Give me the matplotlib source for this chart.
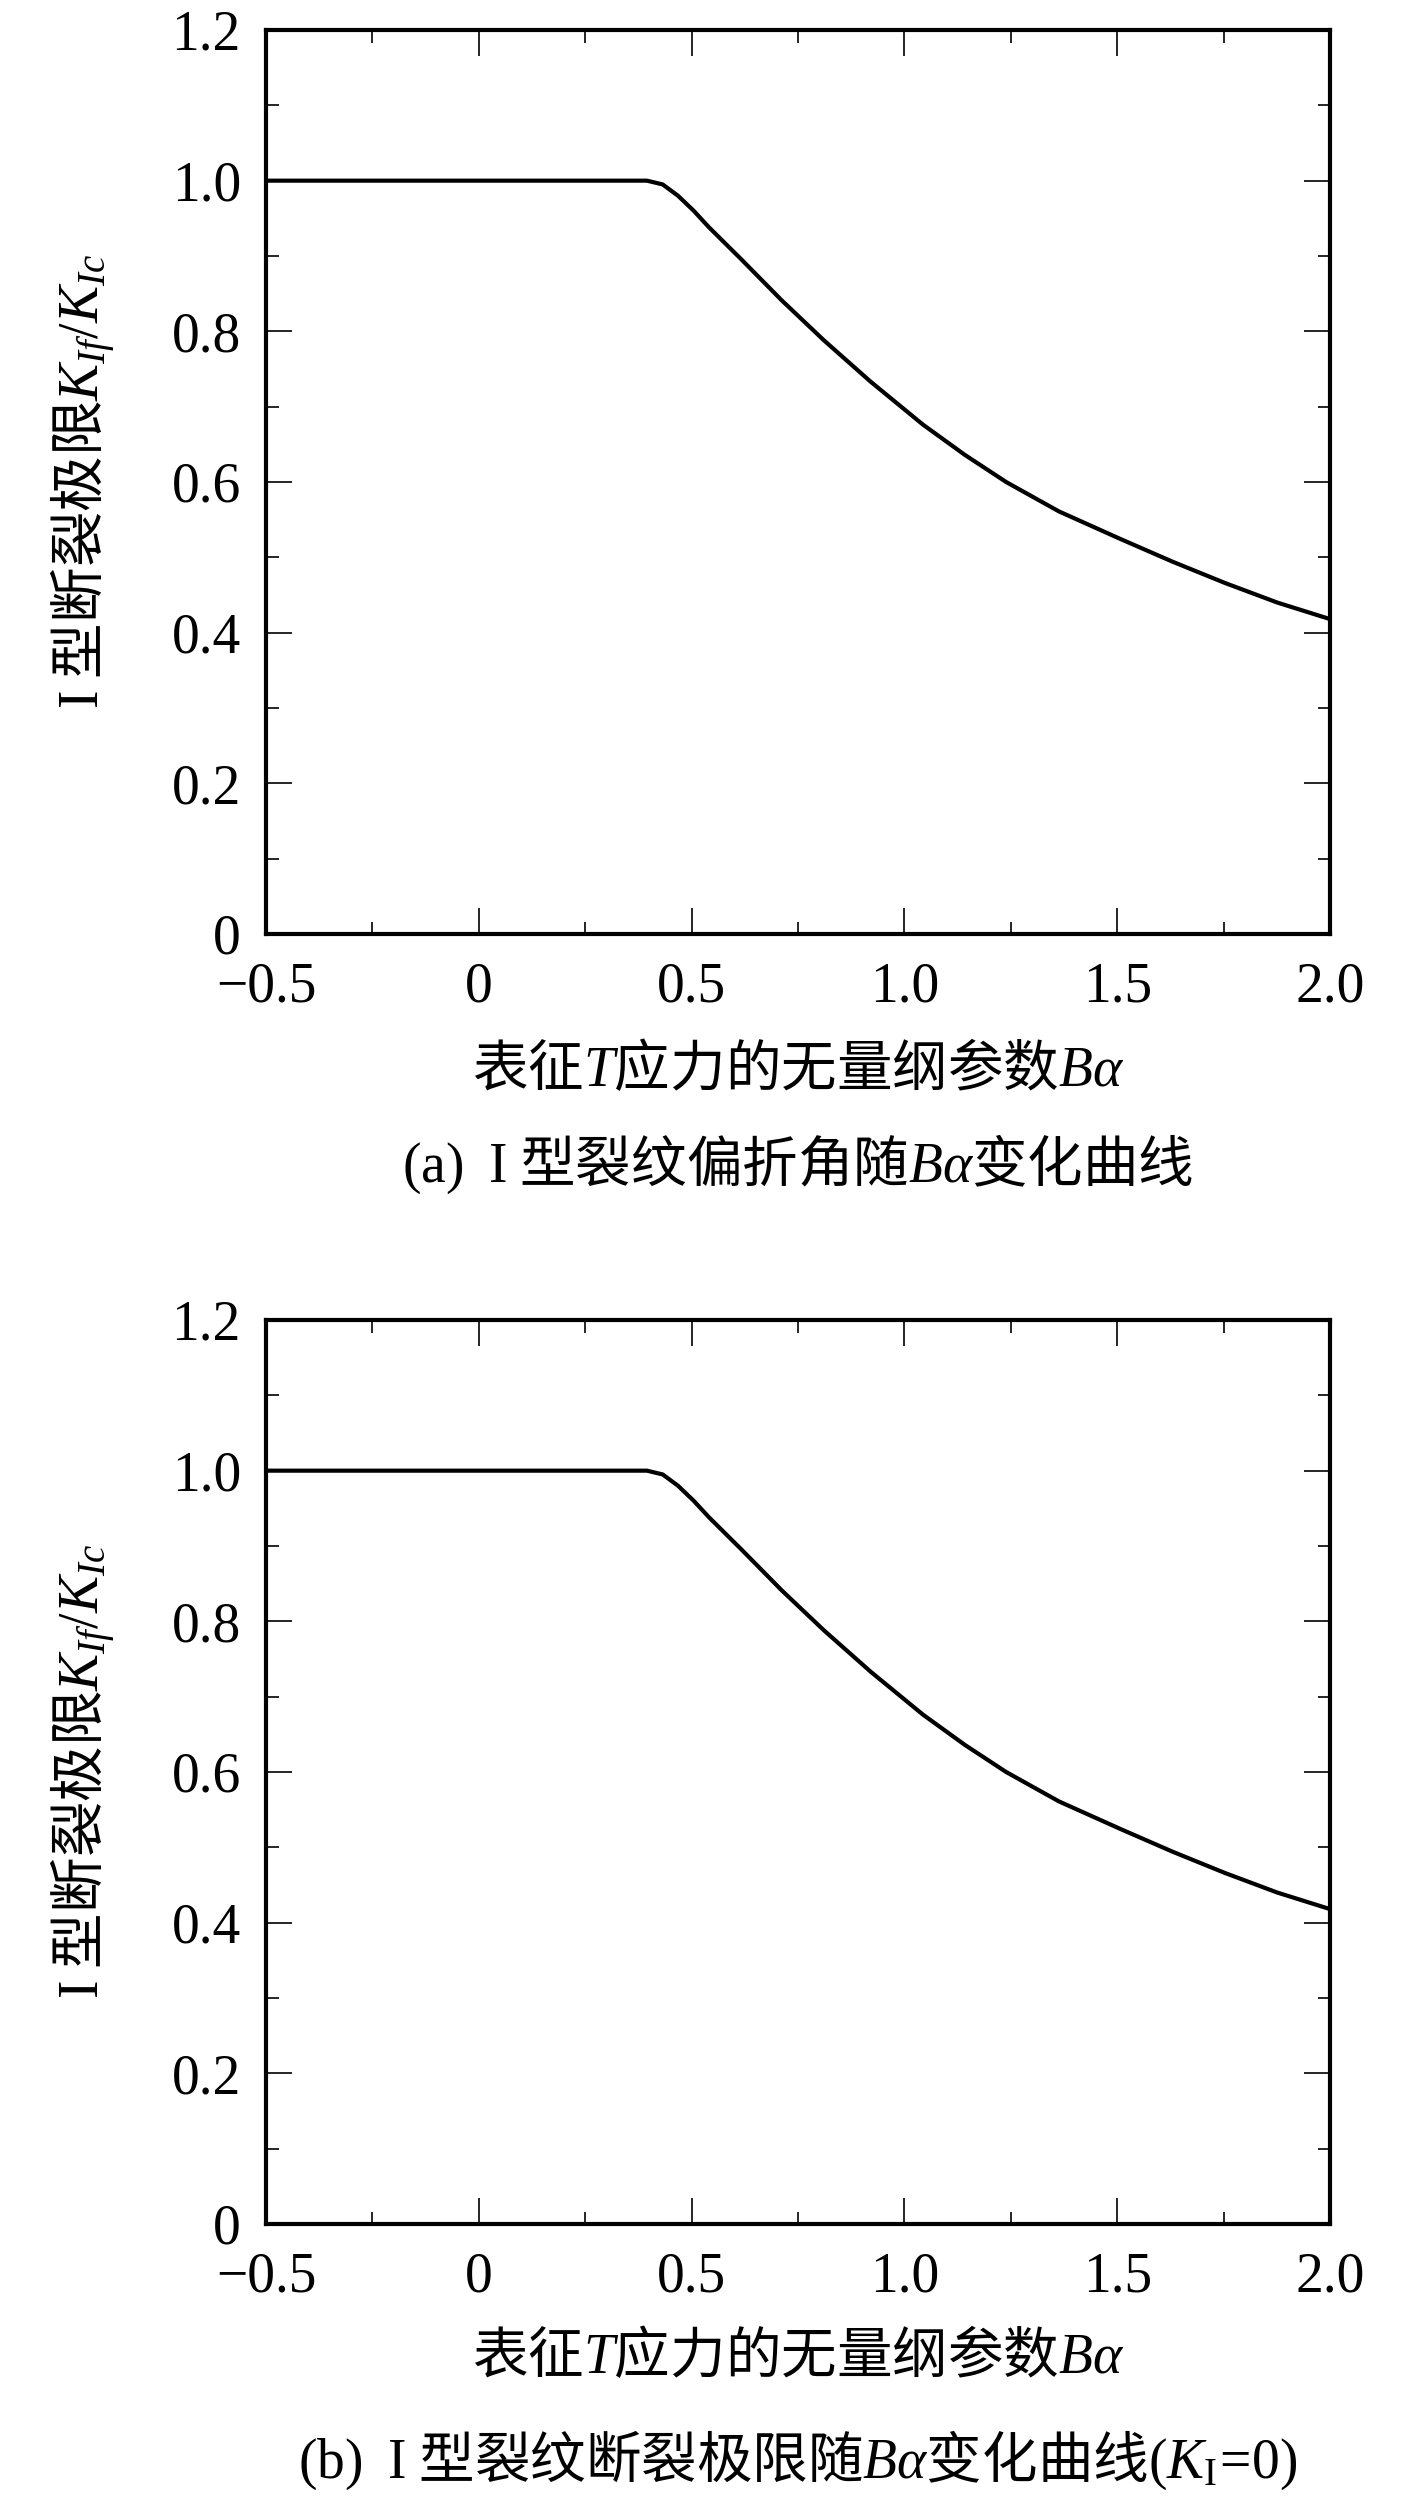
import numpy as np
import matplotlib
matplotlib.use('Agg')
from matplotlib import pyplot as plt
from matplotlib.ticker import FixedLocator, FixedFormatter

plt.rcParams['font.family'] = ['Liberation Serif', 'Noto Sans CJK SC']
plt.rcParams['mathtext.fontset'] = 'custom'
plt.rcParams['mathtext.rm'] = 'Liberation Serif'
plt.rcParams['mathtext.it'] = 'Liberation Serif:italic'
plt.rcParams['mathtext.bf'] = 'Liberation Serif:bold'

# curve (same curve in both panels)
ba = [-0.5, 0.0, 0.2, 0.395, 0.432, 0.468, 0.505, 0.541, 0.616, 0.712, 0.811,
      0.921, 1.044, 1.142, 1.239, 1.363, 1.509, 1.631, 1.753, 1.876, 2.0]
kif = [1.0, 1.0, 1.0, 1.0, 0.995, 0.980, 0.960, 0.938, 0.896, 0.841, 0.788,
       0.733, 0.676, 0.636, 0.600, 0.561, 0.524, 0.494, 0.466, 0.440, 0.418]

xticks = [-0.5, 0.0, 0.5, 1.0, 1.5, 2.0]
xticklabels = ['\u22120.5', '0', '0.5', '1.0', '1.5', '2.0']
xminor = [-0.25, 0.25, 0.75, 1.25, 1.75]
yticks = [0.0, 0.2, 0.4, 0.6, 0.8, 1.0, 1.2]
yticklabels = ['0', '0.2', '0.4', '0.6', '0.8', '1.0', '1.2']
yminor = [0.1, 0.3, 0.5, 0.7, 0.9, 1.1]

# plain (non-math) parts are drawn in the CJK font, latin parts go in math
xlab = '表征$T$应力的无量纲参数$B\\alpha$'
ylab = '$\\mathrm{I}$ 型断裂极限$K_{If}/K_{Ic}$'
captions = ['$\\mathrm{(a)}$  $\\mathrm{I}$ 型裂纹偏折角随$B\\alpha$变化曲线',
            '$\\mathrm{(b)}$  $\\mathrm{I}$ 型裂纹断裂极限随$B\\alpha$变化曲线'
            '$\\mathrm{(}K_{\\mathrm{I}}\\!\\mathrm{=}\\!\\mathrm{0)}$']
cjk = ['Noto Sans CJK SC']

W, H = 1417, 2500
fig = plt.figure(figsize=(W / 100, H / 100), dpi=100)

fs = 40
panels = [(0.6264, 0.572, 0.5344), (0.1104, 0.0572, 0.016)]
for (bot, xly, capy), cap in zip(panels, captions):
    ax = fig.add_axes([266 / W, bot, 1064 / W, 904 / H])
    ax.plot(ba, kif, color='black', lw=3)
    ax.set_xlim(-0.5, 2.0)
    ax.set_ylim(0, 1.2)
    ax.xaxis.set_major_locator(FixedLocator(xticks))
    ax.xaxis.set_major_formatter(FixedFormatter(xticklabels))
    ax.xaxis.set_minor_locator(FixedLocator(xminor))
    ax.yaxis.set_major_locator(FixedLocator(yticks))
    ax.yaxis.set_major_formatter(FixedFormatter(yticklabels))
    ax.yaxis.set_minor_locator(FixedLocator(yminor))
    ax.tick_params(which='both', direction='in', top=True, right=True,
                   width=1.2, labelsize=fs)
    ax.tick_params(which='major', length=19)
    ax.tick_params(which='minor', length=9)
    ax.tick_params(axis='x', pad=20)
    ax.tick_params(axis='y', pad=18)
    for s in ax.spines.values():
        s.set_linewidth(3)
    yc = bot + 904 / H / 2
    fig.text(83 / W, yc, ylab, rotation=90, ha='center', va='center',
             fontsize=fs, family=cjk)
    fig.text(798 / W, xly, xlab, ha='center', va='center', fontsize=fs, family=cjk)
    fig.text(798 / W, capy, cap, ha='center', va='center', fontsize=fs, family=cjk)

plt.savefig('out.png', dpi=100)
